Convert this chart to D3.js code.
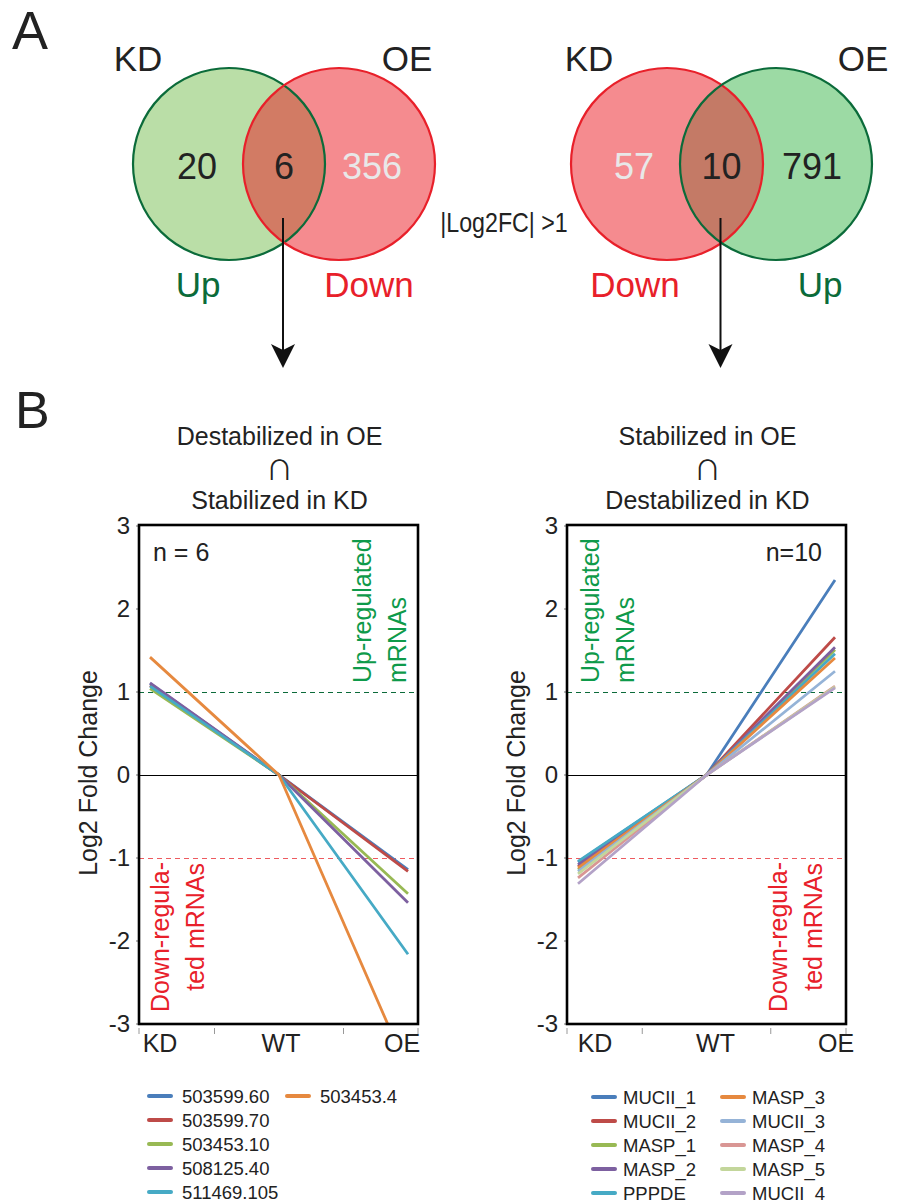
<!DOCTYPE html>
<html><head><meta charset="utf-8">
<script src="https://cdn.jsdelivr.net/npm/d3@7"></script>
<style>body{margin:0;background:#fff} svg{display:block}</style>
</head><body>
<script>
// ---------------- DATA ----------------
const categories = ["KD", "WT", "OE"];

const leftNames = ["503599.60", "503599.70", "503453.10", "508125.40", "511469.105", "503453.4"];
const leftKD = [1.10, 1.08, 1.04, 1.11, 1.07, 1.42];
const leftWT = [0, 0, 0, 0, 0, 0];
const leftOE = [-1.14, -1.16, -1.43, -1.54, -2.16, -3.56];

const rightNames = ["MUCII_1", "MUCII_2", "MASP_1", "MASP_2", "PPPDE", "MASP_3", "MUCII_3", "MASP_4", "MASP_5", "MUCII_4"];
const rightKD = [-1.05, -1.10, -1.14, -1.08, -1.04, -1.12, -1.16, -1.24, -1.19, -1.31];
const rightWT = [0, 0, 0, 0, 0, 0, 0, 0, 0, 0];
const rightOE = [2.35, 1.66, 1.51, 1.54, 1.46, 1.41, 1.25, 1.07, 1.06, 1.05];

const yTicks = [3, 2, 1, 0, -1, -2, -3];
const upThreshold = 1;
const downThreshold = -1;

const leftVennCounts = [20, 6, 356];
const rightVennCounts = [57, 10, 791];
const vennSets = ["KD", "OE"];
const leftVennDirs = ["Up", "Down"];
const rightVennDirs = ["Down", "Up"];
const filterLabel = "|Log2FC| >1";

const leftTitle = ["Destabilized in OE", "\u2229", "Stabilized in KD"];
const rightTitle = ["Stabilized in OE", "\u2229", "Destabilized in KD"];
const leftN = "n = 6";
const rightN = "n=10";
const yTitle = "Log2 Fold Change";
const upLabel = ["Up-regulated", "mRNAs"];
const downLabel = ["Down-regula-", "ted mRNAs"];

// ---------------- STYLE ----------------
const FONT = "'Liberation Sans', Arial, Helvetica, sans-serif";
const palette = ["#4a7ebb", "#be4b48", "#98b954", "#7d60a0", "#46aac5", "#e6893f", "#95b3d7", "#d99694", "#c3d69b", "#b3a2c7"];
const DKGREEN = "#0b6b3a", UPGREEN = "#0e9a4a", RED = "#e8202a";

const svg = d3.select("body").append("svg").attr("width", 898).attr("height", 1203)
  .style("font-family", FONT);
const defs = svg.append("defs");

// ---------------- PANEL LETTERS ----------------
svg.append("text").attr("x", 12).attr("y", 49).attr("font-size", 54).attr("fill", "#222").text("A");
svg.append("text").attr("x", 15).attr("y", 428).attr("font-size", 52).attr("fill", "#222").text("B");

// ---------------- VENN ----------------
function venn(o) {
  const g = svg.append("g");
  const [a, b] = o.circles;
  const idA = o.id + "A";
  defs.append("clipPath").attr("id", idA).append("circle").attr("cx", a.cx).attr("cy", o.cy).attr("r", o.r);
  g.append("circle").attr("cx", a.cx).attr("cy", o.cy).attr("r", o.r).attr("fill", a.fill);
  g.append("circle").attr("cx", b.cx).attr("cy", o.cy).attr("r", o.r).attr("fill", b.fill);
  g.append("circle").attr("cx", b.cx).attr("cy", o.cy).attr("r", o.r).attr("fill", o.overlap)
    .attr("clip-path", `url(#${idA})`);
  g.append("circle").attr("cx", a.cx).attr("cy", o.cy).attr("r", o.r).attr("fill", "none")
    .attr("stroke", a.stroke).attr("stroke-width", 2.2);
  g.append("circle").attr("cx", b.cx).attr("cy", o.cy).attr("r", o.r).attr("fill", "none")
    .attr("stroke", b.stroke).attr("stroke-width", 2.2);
  const nx = [a.cx - o.numOff[0], (a.cx + b.cx) / 2, b.cx + o.numOff[1]];
  o.counts.forEach((c, i) => {
    g.append("text").attr("x", nx[i]).attr("y", 179).attr("text-anchor", "middle")
      .attr("font-size", 36).attr("fill", o.numColors[i]).text(c);
  });
  vennSets.forEach((s, i) => {
    g.append("text").attr("x", i === 0 ? a.cx + o.setOff[0] : b.cx + o.setOff[1]).attr("y", 71)
      .attr("text-anchor", "middle").attr("font-size", 35).attr("fill", "#222").text(s);
  });
  o.dirs.forEach((d, i) => {
    g.append("text").attr("x", i === 0 ? a.cx + o.dirOff[0] : b.cx + o.dirOff[1]).attr("y", 297)
      .attr("text-anchor", "middle").attr("font-size", 35)
      .attr("fill", d === "Up" ? DKGREEN : RED).text(d);
  });
  // arrow
  const ax = (a.cx + b.cx) / 2 - 1;
  g.append("line").attr("x1", ax).attr("x2", ax).attr("y1", 218).attr("y2", 352)
    .attr("stroke", "#111").attr("stroke-width", 2);
  g.append("path").attr("d", `M${ax},368 L${ax - 12},344 L${ax},350 L${ax + 12},344 Z`).attr("fill", "#111");
}

venn({
  id: "vl", cy: 164, r: 96,
  circles: [{ cx: 229, fill: "#badea7", stroke: DKGREEN }, { cx: 339, fill: "#f58b8f", stroke: RED }],
  overlap: "#d27b64", counts: leftVennCounts, numOff: [32, 33],
  numColors: ["#222", "#222", "#e8e8e8"], setOff: [-91, 68], dirs: leftVennDirs, dirOff: [-31, 30]
});
venn({
  id: "vr", cy: 164, r: 96,
  circles: [{ cx: 667, fill: "#f58b8f", stroke: RED }, { cx: 776, fill: "#9cdaa4", stroke: DKGREEN }],
  overlap: "#c47a66", counts: rightVennCounts, numOff: [33, 36],
  numColors: ["#e8e8e8", "#222", "#222"], setOff: [-78, 87], dirs: rightVennDirs, dirOff: [-32, 44]
});
svg.append("text").attr("transform", "translate(504,232) scale(0.86,1)")
  .attr("text-anchor", "middle").attr("font-size", 27).attr("fill", "#222").text(filterLabel);

// ---------------- LINE CHARTS ----------------
function chart(o) {
  const g = svg.append("g");
  const top = 525, bottom = 1024;
  const y = d3.scaleLinear().domain([-3, 3]).range([1024, 526]);
  const x = d3.scalePoint().domain(categories).range(o.pts);
  const xl = d3.scalePoint().domain(categories).range(o.lbl);
  const fx0 = o.frame[0], fx1 = o.frame[1];

  // titles
  o.title.forEach((t, i) => {
    g.append("text").attr("x", (fx0 + fx1) / 2 + 1).attr("y", [445, 480, 509][i])
      .attr("text-anchor", "middle").attr("font-size", i === 1 ? 27 : 25)
      .style("font-family", i === 1 ? "'Noto Sans CJK JP', 'DejaVu Sans', sans-serif" : FONT)
      .attr("fill", "#222").text(t);
  });

  // y title
  g.append("text").attr("transform", `translate(${o.ytx},773) rotate(-90)`)
    .attr("text-anchor", "middle").attr("font-size", 25).attr("fill", "#222").text(yTitle);

  // y tick labels and ticks
  yTicks.forEach(v => {
    g.append("text").attr("x", fx0 - 9).attr("y", y(v)).attr("dy", "0.33em")
      .attr("text-anchor", "end").attr("font-size", 24).attr("fill", "#222").text(v);
    g.append("line").attr("x1", fx0 - 3).attr("x2", fx0).attr("y1", y(v)).attr("y2", y(v))
      .attr("stroke", "#777").attr("stroke-width", 1);
  });

  // x ticks: at frame edges and between categories
  const xt = [fx0, (x("KD") + x("WT")) / 2, (x("WT") + x("OE")) / 2, fx1];
  xt.forEach(t => g.append("line").attr("x1", t).attr("x2", t).attr("y1", 1028).attr("y2", 1034)
    .attr("stroke", "#999").attr("stroke-width", 1));
  categories.forEach(c => {
    g.append("text").attr("x", xl(c)).attr("y", 1052).attr("text-anchor", "middle")
      .attr("font-size", 25).attr("fill", "#222").text(c);
  });

  // threshold lines
  g.append("line").attr("x1", fx0).attr("x2", fx1).attr("y1", y(upThreshold) + 0.5).attr("y2", y(upThreshold) + 0.5)
    .attr("stroke", DKGREEN).attr("stroke-width", 1).attr("stroke-dasharray", "5,4");
  g.append("line").attr("x1", fx0).attr("x2", fx1).attr("y1", y(downThreshold) + 0.5).attr("y2", y(downThreshold) + 0.5)
    .attr("stroke", "#ee5a5f").attr("stroke-width", 1).attr("stroke-dasharray", "5,4");
  g.append("line").attr("x1", fx0).attr("x2", fx1).attr("y1", y(0) + 0.5).attr("y2", y(0) + 0.5)
    .attr("stroke", "#000").attr("stroke-width", 1.3).attr("shape-rendering", "crispEdges");

  // rotated annotation labels
  upLabel.forEach((t, i) => {
    g.append("text").attr("transform", `translate(${o.upX[i]},683) rotate(-90)`)
      .attr("text-anchor", "start").attr("font-size", 25).attr("fill", UPGREEN).text(t);
  });
  downLabel.forEach((t, i) => {
    g.append("text").attr("transform", `translate(${o.downX[i]},${862 + i}) rotate(-90)`)
      .attr("text-anchor", "end").attr("font-size", 25).attr("fill", RED).text(t);
  });

  // n label
  g.append("text").attr("x", o.nX).attr("y", 561).attr("text-anchor", o.nAnchor)
    .attr("font-size", 25).attr("fill", "#222").text(o.n);

  // lines
  const cid = o.id + "clip";
  defs.append("clipPath").attr("id", cid).append("rect")
    .attr("x", fx0).attr("y", top).attr("width", fx1 - fx0).attr("height", bottom - top);
  const line = d3.line().x(d => x(d.c)).y(d => y(d.v));
  const series = o.names.map((n, i) => ({
    name: n, color: palette[i],
    pts: [{ c: "KD", v: o.kd[i] }, { c: "WT", v: o.wt[i] }, { c: "OE", v: o.oe[i] }]
  }));
  g.append("g").attr("clip-path", `url(#${cid})`).selectAll("path").data(series).join("path")
    .attr("d", d => line(d.pts)).attr("fill", "none").attr("stroke", d => d.color)
    .attr("stroke-width", 2.8).attr("stroke-linejoin", "round");

  // frame
  g.append("rect").attr("x", fx0).attr("y", top).attr("width", fx1 - fx0).attr("height", bottom - top)
    .attr("fill", "none").attr("stroke", "#000").attr("stroke-width", 2.6);

  // legend (column-major, 5 rows)
  series.forEach((s, i) => {
    const col = Math.floor(i / 5), row = i % 5;
    const lx = o.legX[col], ly = o.legY + row * 24;
    g.append("line").attr("x1", lx).attr("x2", lx + 22).attr("y1", ly).attr("y2", ly)
      .attr("stroke", s.color).attr("stroke-width", 4).attr("stroke-linecap", "round");
    g.append("text").attr("x", lx + o.legText).attr("y", ly).attr("dy", "0.36em")
      .attr("font-size", 18.5).attr("fill", "#222").text(s.name);
  });
}

chart({
  id: "cl", frame: [139, 418], pts: [150, 408], lbl: [160, 402], title: leftTitle, ytx: 97,
  upX: [371, 406], downX: [169, 204], n: leftN, nX: 153, nAnchor: "start",
  names: leftNames, kd: leftKD, wt: leftWT, oe: leftOE,
  legX: [149, 287], legY: 1096, legText: 33
});
chart({
  id: "cr", frame: [567, 846], pts: [578, 835], lbl: [595, 836], title: rightTitle, ytx: 525,
  upX: [599, 634], downX: [787, 822], n: rightN, nX: 822, nAnchor: "end",
  names: rightNames, kd: rightKD, wt: rightWT, oe: rightOE,
  legX: [593, 722], legY: 1097, legText: 30
});
</script>
</body></html>
